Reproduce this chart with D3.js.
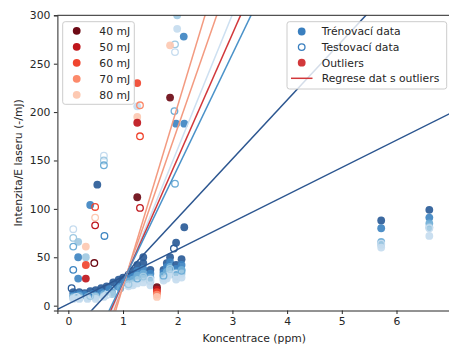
<!DOCTYPE html>
<html>
<head>
<meta charset="utf-8">
<script src="https://cdn.jsdelivr.net/npm/d3@7"></script>
<style>
  body { margin: 0; background: #fff; }
  svg { display: block; font-family: "DejaVu Sans", sans-serif; }
</style>
</head>
<body>
<svg id="chart" width="449" height="347"></svg>
<script>
// Laser energies (legend categories)
const energies = ["40 mJ", "50 mJ", "60 mJ", "70 mJ", "80 mJ"];
const blueShades = ["#2b5c98", "#3f86c2", "#6eadd6", "#9fc9e2", "#c6dcef"];
const redShades  = ["#6d0a15", "#bf161c", "#f0452f", "#fc8a6b", "#fdc9b2"];

// Axis ticks
const xTicks = [0, 1, 2, 3, 4, 5, 6];
const yTicks = [0, 50, 100, 150, 200, 250, 300];

// Training data: [concentration ppm, intensity/E, energy index]
const trainData = [
  [0.09,14,0],[0.2,14,0],[0.3,13,0],[0.4,15,0],[0.5,16,0],[0.6,18,0],[0.7,20,0],[0.82,24,0],[0.92,27,0],[1.0,29,0],
  [0.09,11,1],[0.2,12,1],[0.3,11,1],[0.45,12,1],[0.6,14,1],[0.75,17,1],[0.9,20,1],[1.02,24,1],
  [0.09,9,2],[0.2,10,2],[0.35,9,2],[0.5,10,2],[0.65,12,2],[0.8,14,2],[0.95,18,2],
  [0.09,8,3],[0.2,8,3],[0.35,8,3],[0.5,9,3],[0.65,10,3],[0.8,12,3],
  [0.09,7,4],[0.2,7,4],[0.35,7,4],[0.5,7,4],[0.65,9,4],
  [0.40,104,1],[0.53,125,0],[0.18,66,3],[0.18,50,1],[0.32,50,3],[0.18,28,1],
  [1.99,300,3],[1.99,286,4],[2.11,278,1],[1.26,206,4],[1.97,188,1],[2.12,188,1],
  [1.97,65,0],[2.12,81,0],
  [1.1,32,0],[1.1,28,1],[1.1,25,2],[1.1,22,3],[1.1,20,4],
  [1.18,36,0],[1.18,30,1],[1.18,27,2],[1.18,23,3],[1.18,21,4],
  [1.26,42,0],[1.26,36,1],[1.26,31,2],[1.26,27,3],[1.26,23,4],
  [1.37,50,0],[1.37,44,0],[1.37,38,1],[1.37,33,2],[1.37,28,3],[1.37,24,4],
  [1.5,37,0],[1.5,33,1],[1.5,29,2],[1.5,25,3],[1.5,21,4],
  [1.74,37,0],[1.74,34,1],[1.74,31,2],[1.74,28,3],[1.74,26,4],
  [1.8,44,0],[1.8,40,1],[1.8,35,2],[1.8,31,3],[1.8,28,4],
  [1.86,50,0],[1.86,45,1],[1.86,40,2],[1.86,36,3],[1.86,32,4],
  [1.97,42,0],[1.97,38,1],[1.97,34,2],[1.97,30,3],[1.97,27,4],
  [2.07,48,0],[2.07,42,1],[2.07,37,2],[2.07,33,3],[2.07,29,4],
  [5.72,88,0],[5.72,80,1],[5.72,66,2],[5.72,63,3],[5.72,60,4],
  [6.6,99,0],[6.6,91,1],[6.6,85,2],[6.6,81,3],[6.6,72,4]
];

// Test data: [concentration ppm, intensity/E, energy index]
const testData = [
  [1.95,270,3],[1.95,262,4],[1.94,201,2],[1.95,126,2],
  [0.66,72,1],[0.09,79,4],[0.09,70,3],[0.09,61,2],[0.09,37,1],[0.06,18,0],
  [0.65,155,4],[0.65,150,3],[0.65,145,2],
  [1.93,59,0],
  [0.15,9,4],[0.4,10,3],[0.7,11,4],
  [1.1,22,3],[1.26,28,2],[1.37,30,3],[1.5,27,4],[1.74,31,2],[1.86,38,3],[1.97,33,4],[2.07,36,2],
  [5.72,64,4],[6.6,80,4]
];

// Outliers (training): [concentration ppm, intensity/E, energy index]
const outlierData = [
  [1.26,230,2],[1.26,195,4],[1.26,189,1],[1.26,112,0],
  [1.86,215,0],[1.86,269,4],
  [0.32,61,4],[0.32,42,2],[0.32,28,1],
  [1.62,19,0],[1.62,16.5,1],[1.62,14,2],[1.62,11.5,3],[1.62,9,4]
];

// Outliers (test)
const outlierTestData = [
  [1.31,207,3],[1.31,175,2],[1.31,101,1],
  [0.49,102,2],[0.49,91,4],[0.49,83,1],[0.475,44,0]
];

// Regression lines: slope, intercept, palette and shade index
const regSlopes     = [28.2, 60.8, 186.8, 162.5, 138.8, 128.4, 117.6];
const regIntercepts = [1.77, -30.8, -166.9, -140.9, -115.5, -104.4, -92.8];
const regPalette    = ["blue", "blue", "red", "red", "blue", "reg", "blue"];
const regShade      = [0, 0, 3, 3, 4, 0, 1];

const svg = d3.select("#chart");
const x = d3.scaleLinear().domain([-0.2, 7]).range([57.4, 451.2]);
const y = d3.scaleLinear().domain([-5, 300]).range([310.5, 15.3]);

const lineColor = (p, s) => p === "blue" ? ["#2c5690", "#4a92c9", "#8fbfe0", "#b8d4ec", "#cde0f1"][s]
  : p === "red" ? ["#7a1018", "#c62a2a", "#f06a50", "#f39a80", "#f7b9a4"][s]
  : "#d2383b";

svg.append("defs").append("clipPath").attr("id", "plotClip")
  .append("rect").attr("x", x(-0.2)).attr("y", y(300)).attr("width", x(7) - x(-0.2)).attr("height", y(-5) - y(300));

const plot = svg.append("g").attr("clip-path", "url(#plotClip)");
const R = 3.9;

// filled training points
plot.append("g").selectAll("circle").data(trainData).join("circle")
  .attr("cx", d => x(d[0])).attr("cy", d => y(d[1])).attr("r", R)
  .attr("fill", d => blueShades[d[2]]).attr("fill-opacity", 0.92);

// open test points
plot.append("g").selectAll("circle").data(testData).join("circle")
  .attr("cx", d => x(d[0])).attr("cy", d => y(d[1])).attr("r", R - 0.6)
  .attr("fill", "none").attr("stroke", d => blueShades[d[2]]).attr("stroke-width", 1.3);

// outliers
plot.append("g").selectAll("circle").data(outlierData).join("circle")
  .attr("cx", d => x(d[0])).attr("cy", d => y(d[1])).attr("r", R)
  .attr("fill", d => redShades[d[2]]).attr("fill-opacity", 0.92);

plot.append("g").selectAll("circle").data(outlierTestData).join("circle")
  .attr("cx", d => x(d[0])).attr("cy", d => y(d[1])).attr("r", R - 0.6)
  .attr("fill", "none").attr("stroke", d => redShades[d[2]]).attr("stroke-width", 1.3);

// regression lines
const xs = [-0.2, 7];
plot.append("g").selectAll("line").data(regSlopes.map((s, i) => i)).join("line")
  .attr("x1", i => x(xs[0])).attr("y1", i => y(regSlopes[i] * xs[0] + regIntercepts[i]))
  .attr("x2", i => x(xs[1])).attr("y2", i => y(regSlopes[i] * xs[1] + regIntercepts[i]))
  .attr("stroke", i => lineColor(regPalette[i], regShade[i])).attr("stroke-width", 1.5);

// axes
const fs = "10.8px";
const xAxis = svg.append("g").attr("transform", `translate(0,${y(-5)})`)
  .call(d3.axisBottom(x).tickValues(xTicks).tickFormat(d3.format("d")).tickSize(3.5).tickPadding(3.5));
const yAxis = svg.append("g").attr("transform", `translate(${x(-0.2)},0)`)
  .call(d3.axisLeft(y).tickValues(yTicks).tickFormat(d3.format("d")).tickSize(3.5).tickPadding(3.5));
[xAxis, yAxis].forEach(a => {
  a.selectAll("text").attr("font-size", fs).attr("fill", "#262626").attr("font-family", "DejaVu Sans");
  a.selectAll("line").attr("stroke", "#262626");
  a.select(".domain").attr("stroke", "#262626").attr("stroke-width", 1);
});
// top spine
svg.append("line").attr("x1", x(-0.2)).attr("x2", x(7)).attr("y1", y(300)).attr("y2", y(300))
  .attr("stroke", "#262626").attr("stroke-width", 1);

svg.append("text").attr("x", (x(-0.2) + x(7)) / 2).attr("y", 342)
  .attr("text-anchor", "middle").attr("font-size", fs).attr("fill", "#262626")
  .text("Koncentrace (ppm)");
svg.append("text").attr("transform", `translate(22,${(y(-5) + y(300)) / 2}) rotate(-90)`)
  .attr("text-anchor", "middle").attr("font-size", fs).attr("fill", "#262626")
  .text("Intenzita/E laseru (-/mJ)");

// energy legend
const leg1 = svg.append("g");
leg1.append("rect").attr("x", 62.7).attr("y", 21.7).attr("width", 71.6).attr("height", 82.6)
  .attr("rx", 2.5).attr("fill", "#fff").attr("fill-opacity", 0.8).attr("stroke", "#cccccc");
energies.forEach((e, i) => {
  const yy = 30.8 + i * 16;
  leg1.append("circle").attr("cx", 76.7).attr("cy", yy).attr("r", R).attr("fill", redShades[i]);
  leg1.append("text").attr("x", 99.3).attr("y", yy).attr("dy", "0.36em")
    .attr("font-size", fs).attr("fill", "#262626").text(e);
});

// data legend
const leg2 = svg.append("g");
leg2.append("rect").attr("x", 287).attr("y", 21.7).attr("width", 159.7).attr("height", 67.3)
  .attr("rx", 2.5).attr("fill", "#fff").attr("fill-opacity", 0.8).attr("stroke", "#cccccc");
const l2 = ["Trénovací data", "Testovací data", "Outliers", "Regrese dat s outliers"];
l2.forEach((t, i) => {
  const yy = 31.5 + i * 15.6;
  if (i === 0) leg2.append("circle").attr("cx", 301.7).attr("cy", yy).attr("r", R).attr("fill", "#3a7fbf");
  if (i === 1) leg2.append("circle").attr("cx", 301.7).attr("cy", yy).attr("r", R - 0.6)
    .attr("fill", "none").attr("stroke", "#3a7fbf").attr("stroke-width", 1.3);
  if (i === 2) leg2.append("circle").attr("cx", 301.7).attr("cy", yy).attr("r", R).attr("fill", "#d2383b");
  if (i === 3) leg2.append("line").attr("x1", 291).attr("x2", 312.5).attr("y1", yy).attr("y2", yy)
    .attr("stroke", "#d2383b").attr("stroke-width", 1.5);
  leg2.append("text").attr("x", 321.7).attr("y", yy).attr("dy", "0.36em")
    .attr("font-size", fs).attr("fill", "#262626").text(t);
});
</script>
</body>
</html>
